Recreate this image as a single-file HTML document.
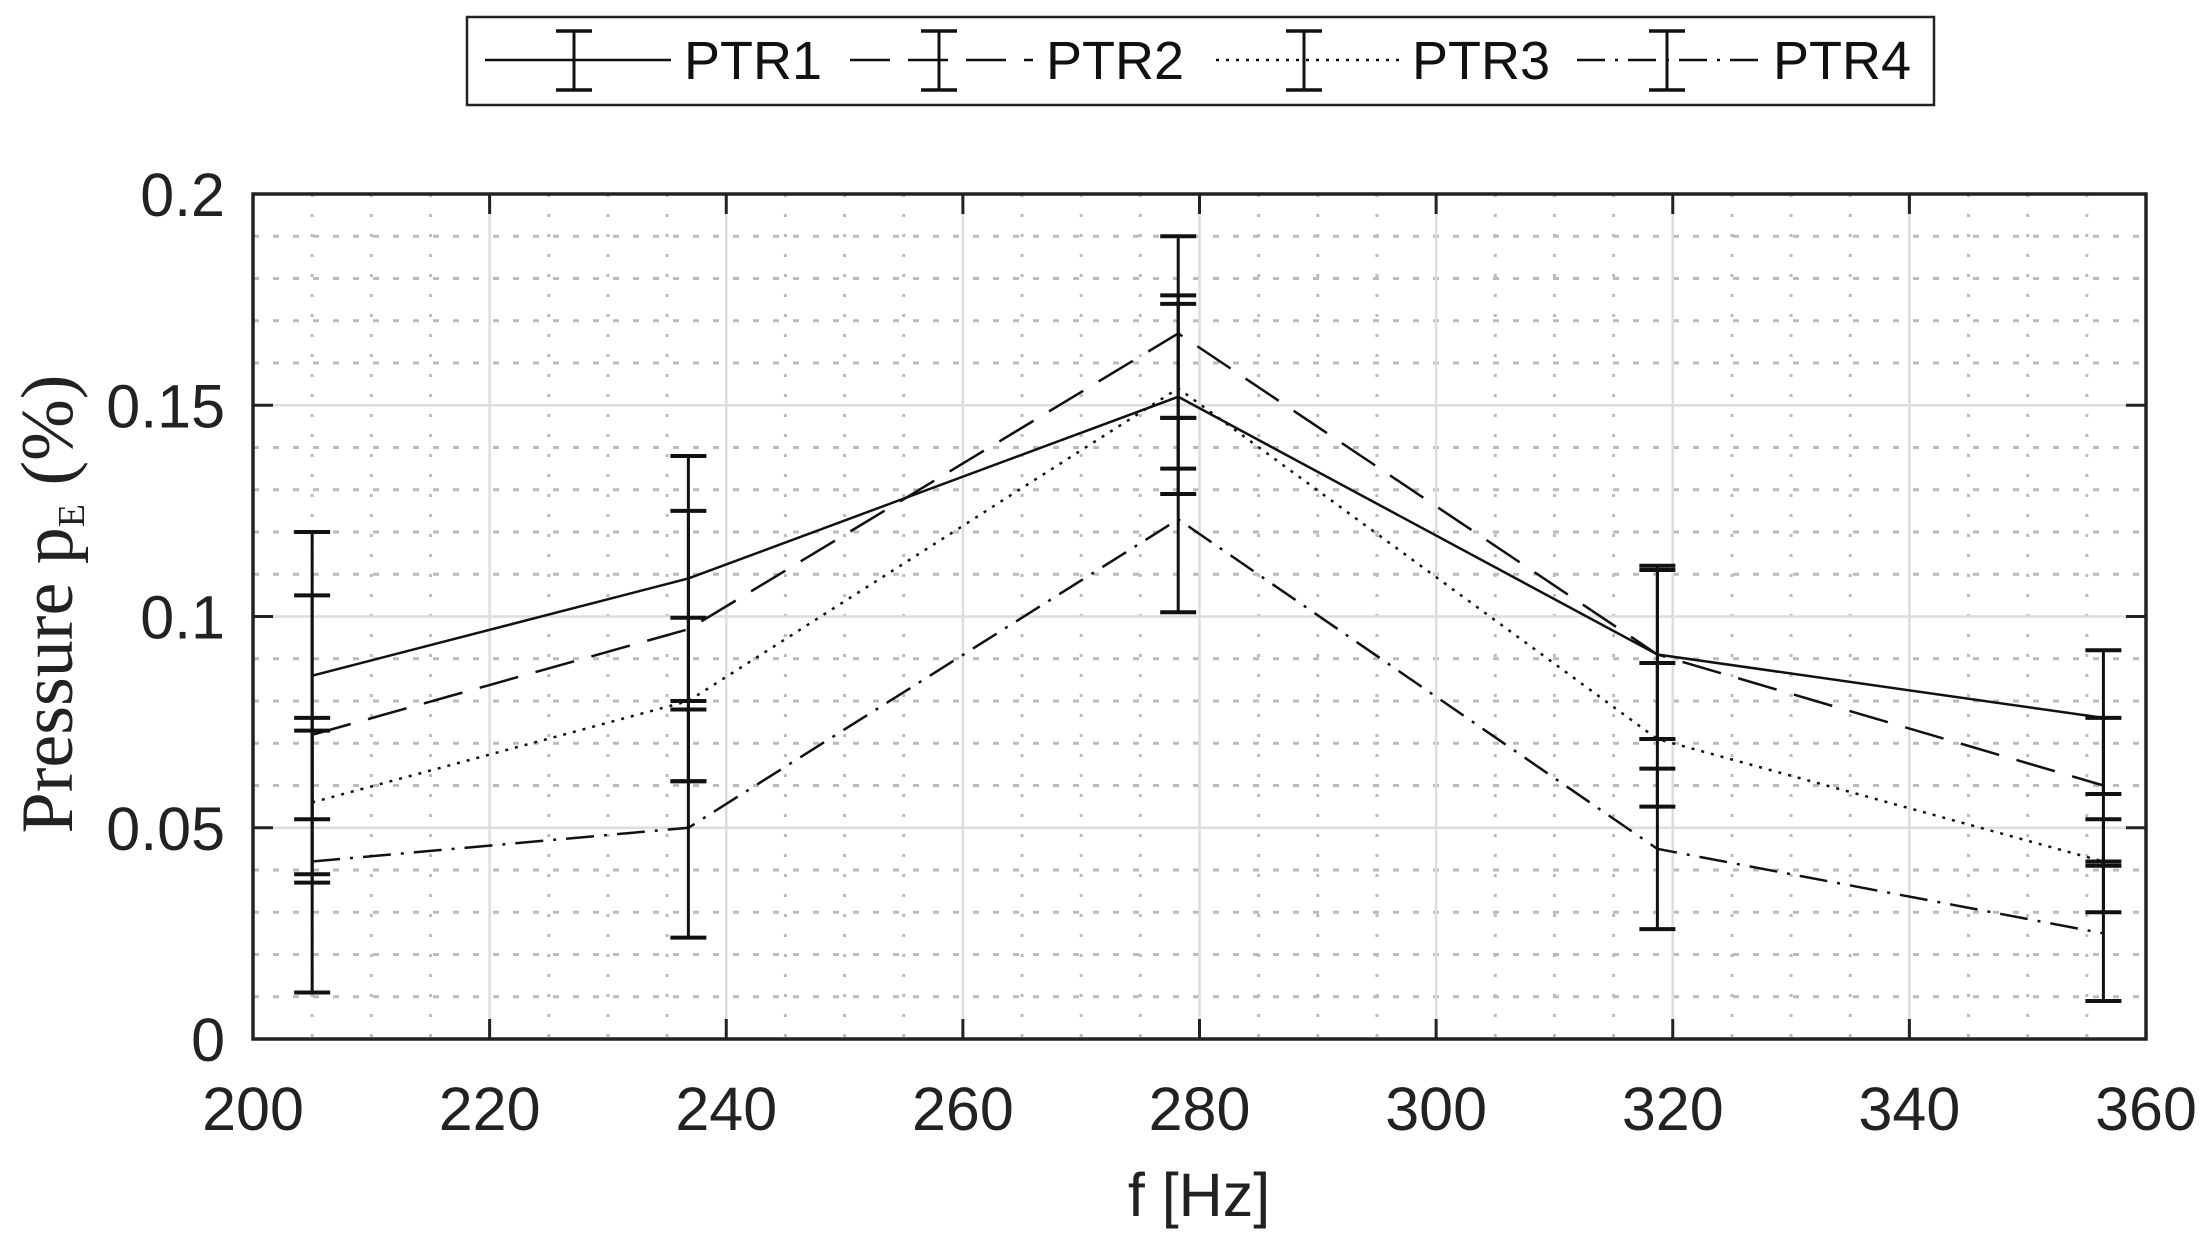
<!DOCTYPE html>
<html><head><meta charset="utf-8"><style>
html,body{margin:0;padding:0;background:#fff;width:2204px;height:1234px;overflow:hidden}
</style></head><body>
<svg id="s" width="2204" height="1234" xmlns="http://www.w3.org/2000/svg" font-family="Liberation Sans, sans-serif"></svg>
<script>
const s=document.getElementById('s');
const X0=253,X1=2146,Y0=1039,Y1=194;
const fx=f=>X0+(f-200)/160*(X1-X0), fy=v=>Y0-v/0.2*(Y0-Y1);
let h='';
for(let f=205;f<360;f+=5){if(f%20)h+=`<line x1="${fx(f)}" y1="${Y1}" x2="${fx(f)}" y2="${Y0}" stroke="#bbb" stroke-width="3" stroke-dasharray="3,17"/>`;}
for(let i=1;i<20;i++){if(i%5)h+=`<line x1="${X0}" y1="${fy(i*0.01)}" x2="${X1}" y2="${fy(i*0.01)}" stroke="#bbb" stroke-width="3" stroke-dasharray="6,14"/>`;}
for(let f=220;f<360;f+=20)h+=`<line x1="${fx(f)}" y1="${Y1}" x2="${fx(f)}" y2="${Y0}" stroke="#ddd" stroke-width="2.5"/>`;
for(let i=1;i<4;i++)h+=`<line x1="${X0}" y1="${fy(i*0.05)}" x2="${X1}" y2="${fy(i*0.05)}" stroke="#ddd" stroke-width="2.5"/>`;
for(let f=200;f<=360;f+=20){h+=`<line x1="${fx(f)}" y1="${Y0}" x2="${fx(f)}" y2="${Y0-20}" stroke="#222" stroke-width="3"/><line x1="${fx(f)}" y1="${Y1}" x2="${fx(f)}" y2="${Y1+20}" stroke="#222" stroke-width="3"/>`;
h+=`<text x="${fx(f)}" y="1130" font-size="61" text-anchor="middle" fill="#222">${f}</text>`;}
const yl=['0','0.05','0.1','0.15','0.2'];
for(let i=0;i<5;i++){const y=fy(i*0.05);h+=`<line x1="${X0}" y1="${y}" x2="${X0+20}" y2="${y}" stroke="#222" stroke-width="3"/><line x1="${X1}" y1="${y}" x2="${X1-20}" y2="${y}" stroke="#222" stroke-width="3"/>`;
h+=`<text x="225" y="${y+22}" font-size="61" text-anchor="end" fill="#222">${yl[i]}</text>`;}
const xs=[205,236.8,278.2,318.7,356.4];
const series=[
 {d:'',y:[0.086,0.109,0.152,0.091,0.076],e:[[0.052,0.120],[0.080,0.138],[0.129,0.176],[0.071,0.112],[0.058,0.092]]},
 {d:'40,18',y:[0.072,0.097,0.167,0.091,0.060],e:[[0.039,0.105],[0.061,0.125],[0.147,0.190],[0.071,0.111],[0.030,0.076]]},
 {d:'3,7',y:[0.056,0.080,0.154,0.071,0.042],e:[[0.037,0.076],[0.061,0.0997],[0.135,0.174],[0.055,0.089],[0.041,0.052]]},
 {d:'28,10,3,10',y:[0.042,0.050,0.123,0.045,0.025],e:[[0.011,0.073],[0.024,0.078],[0.101,0.147],[0.026,0.064],[0.009,0.042]]}];
for(const se of series){
 h+=`<polyline fill="none" stroke="#111" stroke-width="2.5" ${se.d?`stroke-dasharray="${se.d}"`:''} points="${xs.map((f,i)=>fx(f)+','+fy(se.y[i])).join(' ')}"/>`;
 se.e.forEach((e,i)=>{const x=fx(xs[i]),a=fy(e[0]),b=fy(e[1]);
 h+=`<line x1="${x}" y1="${a}" x2="${x}" y2="${b}" stroke="#111" stroke-width="3"/><line x1="${x-18}" y1="${a}" x2="${x+18}" y2="${a}" stroke="#111" stroke-width="4"/><line x1="${x-18}" y1="${b}" x2="${x+18}" y2="${b}" stroke="#111" stroke-width="4"/>`;});
}
h+=`<rect x="${X0}" y="${Y1}" width="${X1-X0}" height="${Y0-Y1}" fill="none" stroke="#222" stroke-width="3.5"/>`;
h+=`<text x="1199" y="1216" font-size="61" text-anchor="middle" fill="#222">f [Hz]</text>`;
h+=`<text transform="translate(72,604) rotate(-90)" font-family="Liberation Serif, serif" font-size="74" text-anchor="middle" fill="#222">Pressure p<tspan font-size="38" dy="12">E</tspan><tspan dy="-12">  (%)</tspan></text>`;
h+=`<rect x="467" y="17" width="1467" height="88" fill="#fff" stroke="#222" stroke-width="2.5"/>`;
const lg=[[485,671,574,'PTR1',''],[850,1033,939,'PTR2','40,18'],[1216,1399,1304,'PTR3','3,7'],[1577,1760,1667,'PTR4','28,10,3,10']];
for(const [a,b,c,t,d] of lg){
 h+=`<line x1="${a}" y1="60" x2="${b}" y2="60" stroke="#111" stroke-width="2.5" ${d?`stroke-dasharray="${d}"`:''}/>`;
 h+=`<line x1="${c}" y1="31" x2="${c}" y2="90" stroke="#111" stroke-width="3"/><line x1="${c-18}" y1="31" x2="${c+18}" y2="31" stroke="#111" stroke-width="3.5"/><line x1="${c-18}" y1="90" x2="${c+18}" y2="90" stroke="#111" stroke-width="3.5"/>`;
 h+=`<text x="${b+13}" y="79" font-size="54" fill="#111">${t}</text>`;
}
s.innerHTML=h;
</script>
</body></html>
